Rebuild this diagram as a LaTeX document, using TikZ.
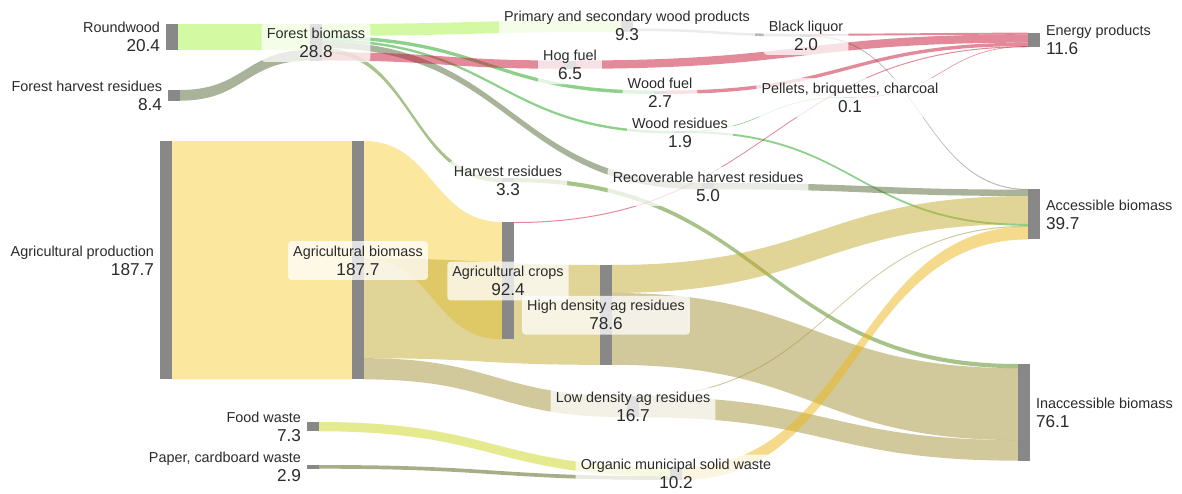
\documentclass[tikz,border=0pt]{standalone}
\usepackage{fontspec}
\setmainfont{Liberation Sans}
\usetikzlibrary{calc,fit}

% drawing order: background, ribbons, node bars, label boxes, text
\pgfdeclarelayer{bg}
\pgfdeclarelayer{links}
\pgfdeclarelayer{bars}
\pgfdeclarelayer{boxes}
\pgfsetlayers{bg,links,bars,boxes,main}

\definecolor{barcol}{HTML}{888888}
\definecolor{txtcol}{HTML}{2B2B2B}
\definecolor{cLime}{HTML}{A9F749}
\definecolor{cSage}{HTML}{536937}
\definecolor{cPink}{HTML}{C71737}
\definecolor{cGreen}{HTML}{1DA315}
\definecolor{cLeaf}{HTML}{538915}
\definecolor{cGray}{HTML}{717171}
\definecolor{cYellow}{HTML}{FBD141}
\definecolor{cOliveL}{HTML}{C3AB2F}
\definecolor{cOliveD}{HTML}{A5933B}
\definecolor{cFood}{HTML}{CBD71D}
\definecolor{cPaper}{HTML}{535D11}
\definecolor{cGold}{HTML}{EDB719}

% pixels per unit of flow
\newcommand\kk{1.27}

\tikzset{
  bar/.style={rectangle, fill=barcol, draw=none, inner sep=0pt, outer sep=0pt,
    anchor=north west, minimum width=9pt, minimum height={#1*0.9525pt}},
  link/.style={fill=#1, fill opacity=0.5, draw=none},
  lname/.style={font=\fontsize{10.8}{13}\selectfont, text=txtcol, inner sep=0pt, outer sep=0pt},
  lval/.style={font=\fontsize{12.9}{15}\selectfont, text=txtcol, inner sep=0pt, outer sep=0pt},
  lbox/.style={rectangle, fill=white, fill opacity=0.75, draw=none,
    rounded corners=2.5pt, inner xsep=3.8pt, inner ysep=3.4pt},
}

% ribbon: colour, source, offset at source, target, offset at target, width (flow units)
\newcommand\flow[6]{%
  \path ($(#2.north east)+(0,{#3*\kk})$) coordinate (fa)
        ($(#4.north west)+(0,{#5*\kk})$) coordinate (fb);
  \path ($(fa)+(0,{#6*\kk})$) coordinate (fc)
        ($(fb)+(0,{#6*\kk})$) coordinate (fd)
        ($(fa)!0.5!(fb)$) coordinate (fm);
  \begin{pgfonlayer}{links}
    \fill[link=#1] (fa) .. controls (fa -| fm) and (fb -| fm) .. (fb)
      -- (fd) .. controls (fd -| fm) and (fc -| fm) .. (fc) -- cycle;
  \end{pgfonlayer}}

% labels: centred on a node with a translucent box, or beside a node
\newcommand\midlabel[3]{%
  \node[lname, anchor=base] (#1-n) at ($(#1.center)+(0,-4)$) {#2};
  \node[lval, anchor=base] (#1-v) at ($(#1.center)+(0,15)$) {#3};
  \begin{pgfonlayer}{boxes}
    \node[lbox, fit=(#1-n)(#1-v)] (#1-box) {};
  \end{pgfonlayer}}
\newcommand\leftlabel[3]{%
  \node[lname, anchor=base east] (#1-n) at ($(#1.west)+(-6,-4)$) {#2};
  \node[lval, anchor=base east] (#1-v) at ($(#1.west)+(-6,15)$) {#3};}
\newcommand\rightlabel[3]{%
  \node[lname, anchor=base west] (#1-n) at ($(#1.east)+(6,-4)$) {#2};
  \node[lval, anchor=base west] (#1-v) at ($(#1.east)+(6,15)$) {#3};}

\begin{document}
\begin{tikzpicture}[x=0.75pt, y=-0.75pt]
\useasboundingbox (0,0) rectangle (1182,493);
\begin{pgfonlayer}{bg}
  \fill[white] (0,0) rectangle (1182,493);
\end{pgfonlayer}

% ---------- node bars ----------
\begin{pgfonlayer}{bars}
  \node[bar=20.4]  (RW)  at (166,24) {};
  \node[bar=8.4]   (FHR) at (168,90) {};
  \node[bar=28.8]  (FB)  at (310,24) {};
  \node[bar=187.7] (AP)  at (160,141) {};
  \node[bar=187.7] (AB)  at (352,141) {};
  \node[bar=9.3]   (PW)  at (621,20) {};
  \node[bar=6.5]   (HF)  at (564,60.5) {};
  \node[bar=2.7]   (WF)  at (654,90.5) {};
  \node[bar=1.9]   (WR)  at (674,131) {};
  \node[bar=5.0]   (RH)  at (702,183) {};
  \node[bar=3.3]   (HR)  at (502,178) {};
  \node[bar=2.0]   (BL)  at (800,34) {};
  \node[bar=0.1]   (PB)  at (844,97) {};
  \node[bar=92.4]  (AC)  at (502,222) {};
  \node[bar=78.6]  (HD)  at (600,265) {};
  \node[bar=16.7]  (LD)  at (627,396) {};
  \node[bar=7.3]   (FW)  at (307,422) {};
  \node[bar=2.9]   (PC)  at (307,465) {};
  \node[bar=10.2]  (MSW) at (670,467) {};
  \node[bar=11.6]  (EP)  at (1028,32.5) {};
  \node[bar=39.7]  (AcB) at (1028,189) {};
  \node[bar=76.1]  (InB) at (1018,364) {};
\end{pgfonlayer}

% ---------- flows ----------
% forest side
\flow{cLime}{RW}{0}{FB}{0}{20.4}
\flow{cSage}{FHR}{0}{FB}{20.4}{8.4}
\flow{cLime}{FB}{0}{PW}{0}{9.3}
\flow{cGreen}{FB}{9.3}{WF}{0}{2.7}
\flow{cGreen}{FB}{12.0}{WR}{0}{1.9}
\flow{cSage}{FB}{13.9}{RH}{0}{5.0}
\flow{cLeaf}{FB}{18.9}{HR}{0}{3.3}
\flow{cPink}{FB}{22.2}{HF}{0}{6.5}
\flow{cGray}{PW}{6.7}{BL}{0}{2.0}
\flow{cPink}{BL}{0}{EP}{0}{1.5}
\flow{cGray}{BL}{1.5}{AcB}{0}{0.8}
\flow{cPink}{HF}{0}{EP}{1.5}{6.5}
\flow{cPink}{WF}{0}{EP}{8.0}{2.7}
\flow{cGreen}{WR}{0}{PB}{0}{0.5}
\flow{cGreen}{WR}{0.1}{AcB}{27.5}{1.5}
\flow{cPink}{PB}{0}{EP}{10.7}{0.5}
\flow{cSage}{RH}{0}{AcB}{0.5}{5.0}
\flow{cLeaf}{HR}{0}{InB}{0}{3.3}
% agricultural side
\flow{cYellow}{AP}{0}{AB}{0}{187.7}
\flow{cYellow}{AB}{0}{AC}{0}{92.4}
\flow{cOliveL}{AB}{92.4}{HD}{0}{78.6}
\flow{cOliveD}{AB}{171.0}{LD}{0}{16.7}
\flow{cPink}{AC}{0}{EP}{10.8}{0.8}
\flow{cOliveL}{HD}{0}{AcB}{5.5}{22.0}
\flow{cOliveD}{HD}{22.0}{InB}{3.3}{56.6}
\flow{cOliveD}{LD}{0}{AcB}{29.0}{0.8}
\flow{cOliveD}{LD}{0.5}{InB}{59.9}{16.2}
% municipal waste
\flow{cFood}{FW}{0}{MSW}{0}{7.3}
\flow{cPaper}{PC}{0}{MSW}{7.3}{2.9}
\flow{cGold}{MSW}{0}{AcB}{29.5}{10.2}

% ---------- labels ----------
\leftlabel{RW}{Roundwood}{20.4}
\leftlabel{FHR}{Forest harvest residues}{8.4}
\leftlabel{AP}{Agricultural production}{187.7}
\leftlabel{FW}{Food waste}{7.3}
\leftlabel{PC}{Paper, cardboard waste}{2.9}

\midlabel{FB}{Forest biomass}{28.8}
\midlabel{AB}{Agricultural biomass}{187.7}
\midlabel{PW}{Primary and secondary wood products}{9.3}
\midlabel{HF}{Hog fuel}{6.5}
\midlabel{BL}{Black liquor}{2.0}
\midlabel{WF}{Wood fuel}{2.7}
\midlabel{PB}{Pellets, briquettes, charcoal}{0.1}
\midlabel{WR}{Wood residues}{1.9}
\midlabel{RH}{Recoverable harvest residues}{5.0}
\midlabel{HR}{Harvest residues}{3.3}
\midlabel{AC}{Agricultural crops}{92.4}
\midlabel{HD}{High density ag residues}{78.6}
\midlabel{LD}{Low density ag residues}{16.7}
\midlabel{MSW}{Organic municipal solid waste}{10.2}

\rightlabel{EP}{Energy products}{11.6}
\rightlabel{AcB}{Accessible biomass}{39.7}
\rightlabel{InB}{Inaccessible biomass}{76.1}
\end{tikzpicture}
\end{document}
